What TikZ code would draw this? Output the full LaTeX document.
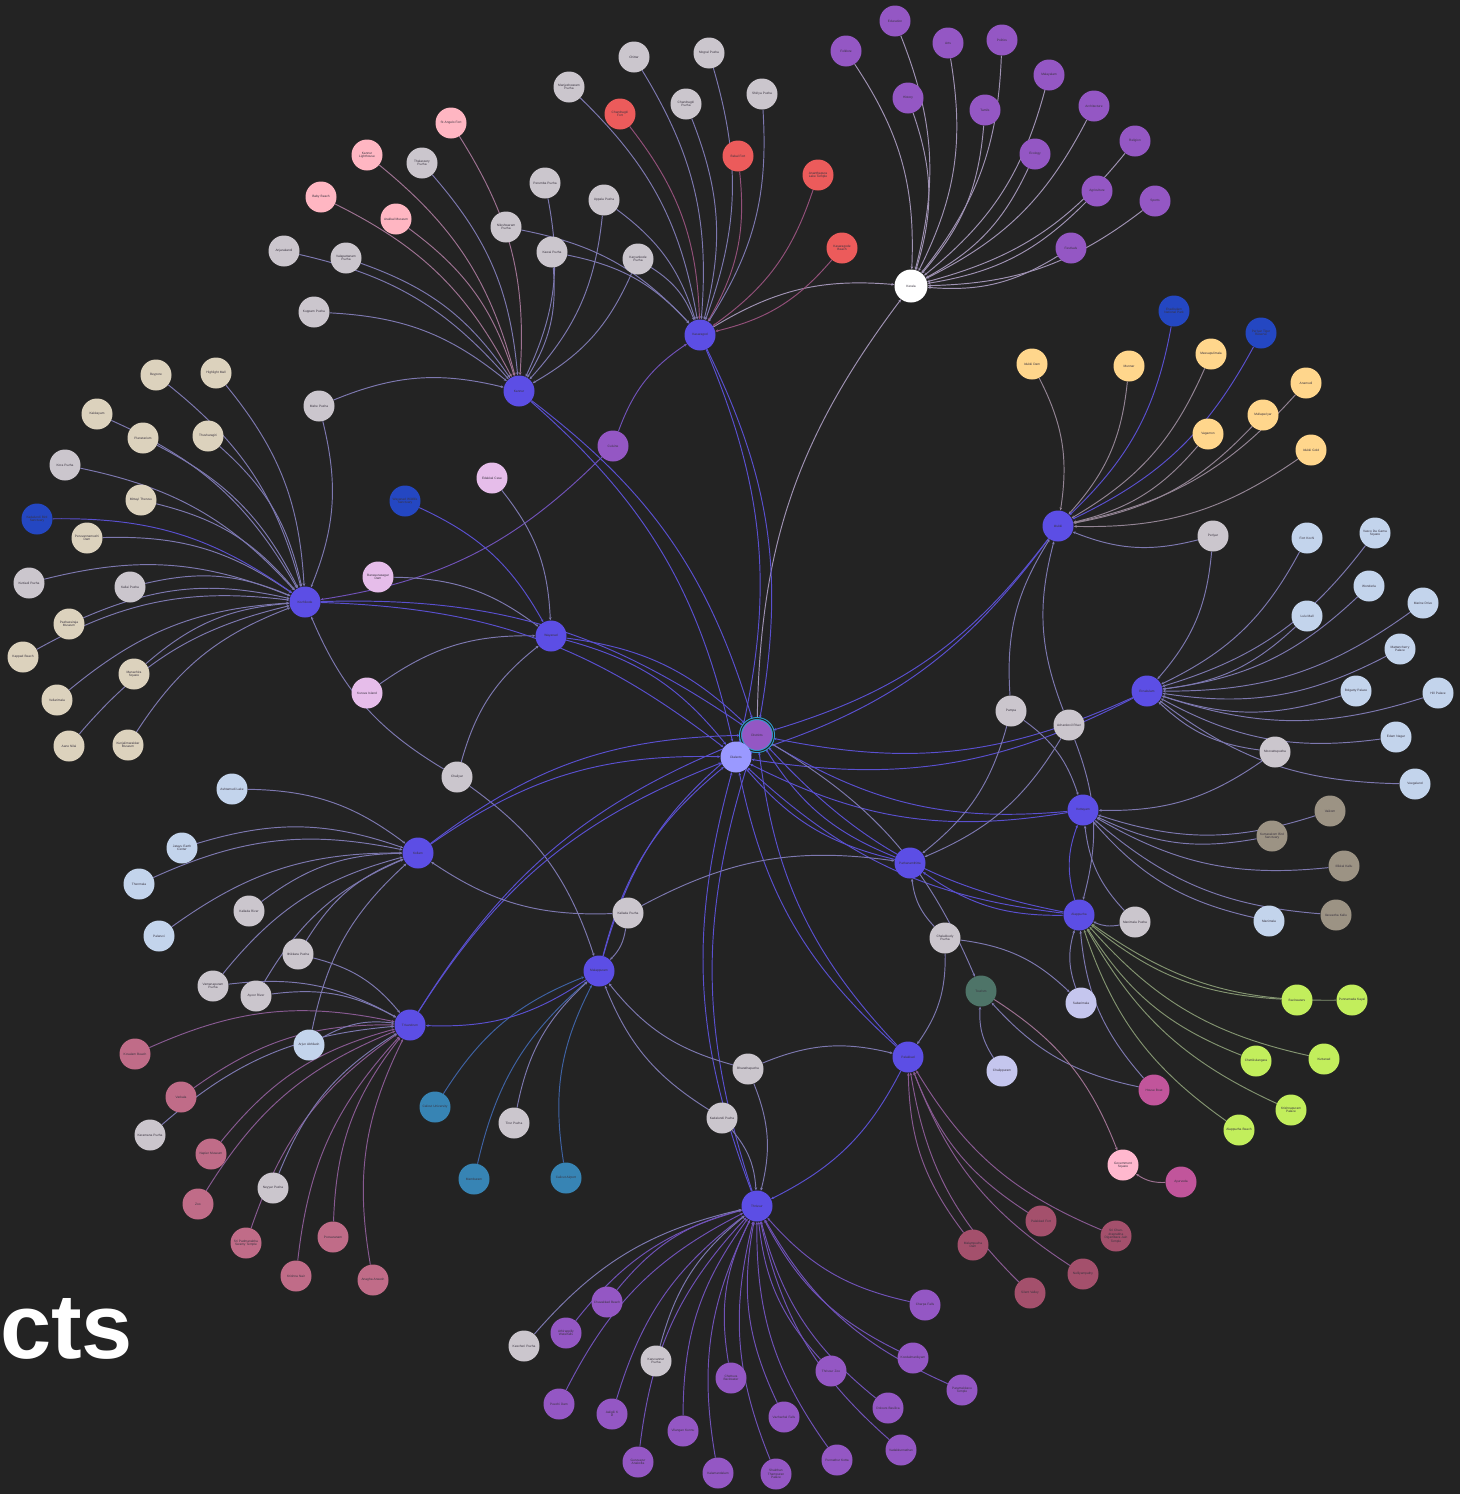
\documentclass[tikz,border=0pt]{standalone}
\usepackage{fontspec}
\setmainfont{Liberation Sans}
\usetikzlibrary{arrows.meta}

\definecolor{bgc}{HTML}{232323}
\definecolor{txtc}{HTML}{3A3440}
\definecolor{hubc}{HTML}{5C4EE5}
\definecolor{topicc}{HTML}{9457C4}
\definecolor{riverc}{HTML}{CBC6CD}
\definecolor{beigec}{HTML}{DCD2BD}
\definecolor{pinkc}{HTML}{FFB6C2}
\definecolor{redc}{HTML}{EC5B5B}
\definecolor{yellowc}{HTML}{FFD68C}
\definecolor{navyc}{HTML}{2447C2}
\definecolor{skyc}{HTML}{C3D4EC}
\definecolor{lilacc}{HTML}{E6BDEA}
\definecolor{taupec}{HTML}{9C9384}
\definecolor{limec}{HTML}{C2EE5C}
\definecolor{tealc}{HTML}{3784B4}
\definecolor{rosec}{HTML}{C06C88}
\definecolor{wine}{HTML}{A4506C}
\definecolor{magc}{HTML}{C1559B}
\definecolor{sagec}{HTML}{4E7468}
\definecolor{lavc}{HTML}{C5C6EE}
\definecolor{blushc}{HTML}{FFB8CE}
\definecolor{ringc}{HTML}{2FA0D0}
\definecolor{dialc}{HTML}{9A99FF}
\definecolor{hubln}{HTML}{5A50D0}
\definecolor{greyln}{HTML}{7D78B0}
\definecolor{kerln}{HTML}{A093B4}
\definecolor{redln}{HTML}{93507A}
\definecolor{pinkln}{HTML}{9E7292}
\definecolor{yelln}{HTML}{938494}
\definecolor{limeln}{HTML}{839470}
\definecolor{tealln}{HTML}{3F62A4}
\definecolor{roseln}{HTML}{885A92}
\definecolor{purpln}{HTML}{7052B8}

\pgfdeclarelayer{canvas}
\pgfdeclarelayer{edges}
\pgfsetlayers{canvas,edges,main}

\tikzset{
  dot/.style={circle, minimum size=31pt, inner sep=0pt, text width=27pt, align=center,
    text=txtc, font=\fontsize{3.2}{3.5}\selectfont},
  hub/.style={dot, fill=hubc},
  topic/.style={dot, fill=topicc},
  river/.style={dot, fill=riverc},
  beige/.style={dot, fill=beigec},
  pinkdot/.style={dot, fill=pinkc},
  reddot/.style={dot, fill=redc},
  yellowdot/.style={dot, fill=yellowc},
  navydot/.style={dot, fill=navyc},
  skydot/.style={dot, fill=skyc},
  lilacdot/.style={dot, fill=lilacc},
  taupedot/.style={dot, fill=taupec},
  limedot/.style={dot, fill=limec},
  tealdot/.style={dot, fill=tealc},
  rosedot/.style={dot, fill=rosec},
  winedot/.style={dot, fill=wine},
  magdot/.style={dot, fill=magc},
  lavdot/.style={dot, fill=lavc},
  ln/.style={draw=#1, line width=0.95pt, -{Stealth[length=3pt,width=2.6pt]}, bend left=18},
  ln/.default=hubln
}

\begin{document}
\begin{tikzpicture}[x=1pt,y=-1pt]
\begin{pgfonlayer}{canvas}
  \fill[bgc] (0,0) rectangle (1460,1494);
\end{pgfonlayer}
\useasboundingbox (0,0) rectangle (1460,1494);

% heading
\node[anchor=base west, inner sep=0pt, text=white, font=\fontsize{92}{92}\selectfont\bfseries] (title) at (0,1358) {cts};

% centre
\node[dot, fill=topicc, minimum size=33pt, draw=ringc, line width=1pt, double=bgc, double distance=1pt] (districts) at (757,735) {Districts};
\node[dot, fill=dialc] (dialects) at (736,757) {Dialects};

% Kerala topics
\node[dot, fill=white, minimum size=33pt] (kerala) at (911,286) {Kerala};
\node[topic] (folk) at (846,51) {Folklore};
\node[topic] (edu) at (895,21) {Education};
\node[topic] (arts) at (948,43) {Arts};
\node[topic] (poli) at (1002,40) {Politics};
\node[topic] (hist) at (908,98) {History};
\node[topic] (tamil) at (985,110) {Tamils};
\node[topic] (mal) at (1049,75) {Malayalam};
\node[topic] (arch) at (1094,106) {Architecture};
\node[topic] (eco) at (1035,154) {Ecology};
\node[topic] (rel) at (1135,141) {Religion};
\node[topic] (agri) at (1097,191) {Agriculture};
\node[topic] (sport) at (1155,201) {Sports};
\node[topic] (fest) at (1071,248) {Festivals};
\node[topic] (cuisine) at (613,446) {Cuisine};

% Kasaragod
\node[hub] (kasaragod) at (700,335) {Kasaragod};
\node[river] (chittar) at (634,57) {Chittar};
\node[river] (mogral) at (709,53) {Mogral Puzha};
\node[river] (manj) at (569,87) {Manjeshwaram\\Puzha};
\node[reddot] (cfort) at (620,114) {Chandragiri\\Fort};
\node[river] (cpuzha) at (686,104) {Chandragiri\\Puzha};
\node[river] (shiriya) at (762,94) {Shiriya Puzha};
\node[reddot] (bekal) at (738,156) {Bekal Fort};
\node[reddot] (anantha) at (818,175) {Ananthapura\\Lake Temple};
\node[reddot] (ksbeach) at (842,248) {Kasaragode Beach};
\node[river] (karyan) at (638,259) {Karyankode\\Puzha};
\node[river] (uppala) at (604,200) {Uppala Puzha};
\node[river] (kawai) at (552,252) {Kawai Puzha};
\node[river] (perumba) at (545,183) {Perumba Puzha};
\node[river] (nilesh) at (506,227) {Nileshwaram\\Puzha};

% Kannur
\node[hub] (kannur) at (519,391) {Kannur};
\node[pinkdot] (angelo) at (451,123) {St Angelo Fort};
\node[pinkdot] (lighth) at (367,155) {Kannur Lighthouse};
\node[river] (thalas) at (422,163) {Thalassery\\Puzha};
\node[pinkdot] (baby) at (321,197) {Baby Beach};
\node[pinkdot] (arakkal) at (396,219) {Arakkal Museum};
\node[river] (anjar) at (284,251) {Anjarakandi};
\node[river] (valap) at (346,258) {Valapattanam\\Puzha};
\node[river] (kuppam) at (314,312) {Kuppam Puzha};
\node[river] (mahe) at (319,406) {Mahe Puzha};

% Kozhikode
\node[hub] (kozhikode) at (305,602) {Kozhikode};
\node[beige] (beypore) at (156,375) {Beypore};
\node[beige] (hilite) at (216,373) {Highlight Mall};
\node[beige] (kakka) at (97,414) {Kakkayam};
\node[beige] (planet) at (143,438) {Planetarium};
\node[beige] (thusha) at (208,436) {Thusharagiri};
\node[river] (kora) at (65,465) {Kora Puzha};
\node[beige] (mittayi) at (141,500) {Mittayi Theruvu};
\node[navydot] (kbird) at (37,519) {Kadalundi Bird\\Sanctuary};
\node[beige] (peruv) at (87,538) {Peruvannamuzhi\\Dam};
\node[river] (kuttiadi) at (29,583) {Kuttiadi Puzha};
\node[river] (kallai) at (130,587) {Kallai Puzha};
\node[beige] (pazhassi) at (69,624) {Pazhassiraja\\Museum};
\node[beige] (kappad) at (23,657) {Kappad Beach};
\node[beige] (manachira) at (134,674) {Manachira\\Square};
\node[beige] (vellari) at (57,700) {Vellarimala};
\node[beige] (aane) at (69,746) {Aane Nilai};
\node[beige] (kunjali) at (128,745) {Kunjalimarakkar\\Museum};

% Wayanad
\node[hub] (wayanad) at (551,636) {Wayanad};
\node[lilacdot] (edakkal) at (492,478) {Edakkal Cave};
\node[navydot] (wwls) at (405,501) {Wayanad Wildlife\\Sanctuary};
\node[lilacdot] (banasura) at (378,577) {Banasurasagar\\Dam};
\node[lilacdot] (kuruva) at (367,693) {Kuruva Island};
\node[river] (chaliyar) at (457,777) {Chaliyar};

% Idukki
\node[hub] (idukki) at (1058,526) {Idukki};
\node[yellowdot] (idam) at (1032,364) {Idukki Dam};
\node[yellowdot] (munnar) at (1129,366) {Munnar};
\node[yellowdot] (meesa) at (1211,354) {Meesapulimala};
\node[navydot] (eravi) at (1174,311) {Eravikulam\\National Park};
\node[navydot] (ptr) at (1261,333) {Periyar Tiger\\Reserve};
\node[yellowdot] (vagamon) at (1208,434) {Vagamon};
\node[yellowdot] (mullap) at (1263,415) {Mullaperiyar};
\node[yellowdot] (anamudi) at (1306,383) {Anamudi};
\node[yellowdot] (igold) at (1311,450) {Idukki Gold};
\node[river] (periyar) at (1213,536) {Periyar};

% Ernakulam
\node[hub] (ernakulam) at (1147,691) {Ernakulam};
\node[skydot] (fortkochi) at (1307,538) {Fort Kochi};
\node[skydot] (vasco) at (1375,533) {Vasco Da Gama\\Square};
\node[skydot] (wonderla) at (1369,586) {Wonderla};
\node[skydot] (lulu) at (1307,616) {Lulu Mall};
\node[skydot] (marine) at (1423,603) {Marine Drive};
\node[skydot] (mattan) at (1400,649) {Mattancherry\\Palace};
\node[skydot] (bolgatty) at (1356,691) {Bolgatty Palace};
\node[skydot] (hillp) at (1438,693) {Hill Palace};
\node[skydot] (kodanad) at (1396,737) {Edam Nagar};
\node[skydot] (veega) at (1415,784) {Veegaland};
\node[river] (moova) at (1275,752) {Moovattupuzha};
\node[river] (pampa) at (1011,711) {Pampa};
\node[river] (achan) at (1069,725) {Achankovil River};

% Kottayam
\node[hub] (kottayam) at (1083,810) {Kottayam};
\node[taupedot] (vaikom) at (1330,811) {Vaikom};
\node[taupedot] (kumarakom) at (1272,836) {Kumarakom Bird\\Sanctuary};
\node[taupedot] (illikkal) at (1344,866) {Illikkal Kallu};
\node[taupedot] (ilav) at (1336,915) {Ilaveezha Kallu};
\node[skydot] (manimala) at (1269,921) {Manimala};
\node[river] (manimalap) at (1135,922) {Manimala Puzha};

% Alappuzha
\node[hub] (alappuzha) at (1079,915) {Alappuzha};
\node[limedot] (backw) at (1297,1000) {Backwaters};
\node[limedot] (punnamada) at (1352,1000) {Punnamada Kayal};
\node[limedot] (chetti) at (1256,1061) {Chettikulangara};
\node[limedot] (kuttanad) at (1324,1059) {Kuttanad};
\node[limedot] (krishna) at (1291,1110) {Krishnapuram\\Palace};
\node[limedot] (abeach) at (1239,1130) {Alappuzha Beach};
\node[magdot] (houseboat) at (1154,1090) {House Boat};
\node[lavdot] (sabari) at (1081,1003) {Sabarimala};

% Pathanamthitta
\node[hub] (pathanam) at (910,863) {Pathanamthitta};
\node[river] (chalakudy) at (945,938) {Chalakkudy\\Puzha};
\node[dot, fill=sagec] (tourism) at (981,991) {Tourism};
\node[lavdot] (chalip) at (1002,1071) {Chalippuram};
\node[dot, fill=blushc] (govsq) at (1123,1165) {Government\\Square};
\node[magdot] (ayur) at (1181,1182) {Ayurveda};

% Palakkad
\node[hub] (palakkad) at (908,1057) {Palakkad};
\node[winedot] (malam) at (973,1245) {Malampuzha\\Dam};
\node[winedot] (pfort) at (1041,1221) {Palakkad Fort};
\node[winedot] (jain) at (1116,1236) {Sri Chandraprabha\\Digambara Jain\\Temple};
\node[winedot] (silent) at (1030,1293) {Silent Valley};
\node[winedot] (nelli) at (1083,1274) {Nelliyampathy};

% Thrissur
\node[hub] (thrissur) at (757,1206) {Thrissur};
\node[topic] (chavakkad) at (607,1302) {Chavakkad Beach};
\node[topic] (athira) at (566,1333) {Athirappilly\\Waterfalls};
\node[river] (keecheri) at (524,1346) {Keecheri Puzha};
\node[topic] (peechi) at (559,1404) {Peechi Dam};
\node[topic] (asok) at (612,1414) {Aaligili K\\D};
\node[river] (karuv) at (656,1361) {Karuvannur\\Puzha};
\node[topic] (guru) at (638,1462) {Guruvayur\\Anakotta};
\node[topic] (vilangan) at (683,1431) {Vilangan Kunnu};
\node[topic] (kalam) at (718,1473) {Kalamandalam};
\node[topic] (chettuva) at (731,1378) {Chettuva Backwater};
\node[topic] (shakthan) at (776,1474) {Shakthan Thampuran\\Palace};
\node[topic] (vazha) at (784,1417) {Vazhachal Falls};
\node[topic] (tzoo) at (831,1371) {Thrissur Zoo};
\node[topic] (punna) at (837,1460) {Punnathur Kotta};
\node[topic] (dolours) at (888,1408) {Dolours Basilica};
\node[topic] (vadakk) at (901,1450) {Vadakkunnathan};
\node[topic] (koodal) at (913,1358) {Koodalmanikyam};
\node[topic] (parame) at (962,1390) {Paramekkavu\\Temple};
\node[topic] (charpa) at (925,1305) {Charpa Falls};

% Malappuram
\node[hub] (malappuram) at (599,971) {Malappuram};
\node[tealdot] (calicutu) at (435,1107) {Calicut University};
\node[tealdot] (mambram) at (474,1179) {Mamburam};
\node[tealdot] (calicuta) at (566,1178) {Calicut Airport};
\node[river] (tirur) at (514,1123) {Tirur Puzha};
\node[river] (kallada) at (628,913) {Kallada Puzha};
\node[river] (bharatha) at (748,1069) {Bharathapuzha};
\node[river] (kadalundi) at (722,1118) {Kadalundi Puzha};

% Kollam
\node[hub] (kollam) at (418,853) {Kollam};
\node[skydot] (ashta) at (232,789) {Ashtamudi Lake};
\node[skydot] (jatayu) at (182,848) {Jatayu Earth\\Center};
\node[skydot] (thenmala) at (139,884) {Thenmala};
\node[skydot] (palaruvi) at (159,936) {Palaruvi};
\node[river] (kallriver) at (249,911) {Kallada River};
\node[river] (ithikkara) at (298,954) {Ithikkara Puzha};
\node[river] (vamana) at (213,986) {Vamanapuram\\Puzha};
\node[river] (ayoor) at (256,996) {Ayoor River};

% Trivandrum
\node[hub] (trivandrum) at (410,1025) {Trivandrum};
\node[rosedot] (kovalam) at (135,1054) {Kovalam Beach};
\node[rosedot] (varkala) at (181,1097) {Varkala};
\node[river] (karamana) at (150,1135) {Karamana Puzha};
\node[rosedot] (napier) at (211,1154) {Napier Museum};
\node[rosedot] (zoo) at (198,1204) {Zoo};
\node[river] (neyyar) at (273,1188) {Neyyar Puzha};
\node[rosedot] (padma) at (246,1243) {Sri Padmanabha\\Swamy Temple};
\node[rosedot] (ponmudi) at (333,1237) {Poovaranam};
\node[rosedot] (kuthira) at (296,1276) {Krishna Nair};
\node[rosedot] (aruvi) at (373,1280) {Anagha Aneesh};
\node[skydot] (arjun) at (309,1045) {Arjun Abhilash};

\begin{pgfonlayer}{edges}
% Kerala
\foreach \s in {folk,edu,arts,poli,hist,tamil,mal,arch,eco,rel,agri,sport,fest}
  \draw[ln=kerln] (\s) to (kerala);
\draw[ln=kerln] (kasaragod) to (kerala);
\draw[ln=kerln] (districts) to (kerala);
% Kasaragod and Kannur
\foreach \s in {cfort,bekal,anantha,ksbeach}
  \draw[ln=redln] (\s) to (kasaragod);
\foreach \s in {chittar,mogral,manj,cpuzha,shiriya,karyan,uppala,kawai,nilesh}
  \draw[ln=greyln] (\s) to (kasaragod);
\foreach \s in {lighth,baby,arakkal,angelo}
  \draw[ln=pinkln] (\s) to (kannur);
\foreach \s in {thalas,anjar,valap,kuppam,mahe,perumba,uppala,karyan,kawai}
  \draw[ln=greyln] (\s) to (kannur);
\draw[ln=purpln] (cuisine) to (kasaragod);
\draw[ln=purpln] (cuisine) to (kozhikode);
% Kozhikode and Wayanad
\foreach \s in {beypore,hilite,kakka,planet,thusha,mittayi,peruv,pazhassi,kappad,manachira,vellari,aane,kunjali,kora,kuttiadi,kallai,mahe}
  \draw[ln=greyln] (\s) to (kozhikode);
\draw[ln] (kbird) to (kozhikode);
\foreach \s in {edakkal,banasura,kuruva,chaliyar}
  \draw[ln=greyln] (\s) to (wayanad);
\draw[ln] (wwls) to (wayanad);
\draw[ln=greyln] (chaliyar) to (kozhikode);
\draw[ln=greyln] (chaliyar) to (malappuram);
% districts
\foreach \h in {kasaragod,kannur,kozhikode,wayanad,idukki,ernakulam,kottayam,alappuzha,pathanam,palakkad,thrissur,malappuram,kollam,trivandrum}{
  \draw[ln] (\h) to (districts);
  \draw[ln] (\h) to (dialects);
}
% Idukki and Ernakulam
\foreach \s in {idam,munnar,meesa,vagamon,mullap,anamudi,igold}
  \draw[ln=yelln] (\s) to (idukki);
\foreach \s in {eravi,ptr}
  \draw[ln] (\s) to (idukki);
\foreach \s in {periyar,pampa,achan}
  \draw[ln=greyln] (\s) to (idukki);
\foreach \s in {fortkochi,vasco,wonderla,lulu,marine,mattan,bolgatty,hillp,kodanad,veega,moova,periyar}
  \draw[ln=greyln] (\s) to (ernakulam);
% Kottayam and Alappuzha
\foreach \s in {vaikom,kumarakom,illikkal,ilav,manimala,manimalap,moova,pampa}
  \draw[ln=greyln] (\s) to (kottayam);
\draw[ln] (alappuzha) to (kottayam);
\foreach \s in {backw,punnamada,chetti,kuttanad,krishna,abeach}
  \draw[ln=limeln] (\s) to (alappuzha);
\foreach \s in {houseboat,sabari,manimalap,achan}
  \draw[ln=greyln] (\s) to (alappuzha);
\draw[ln] (alappuzha) to (pathanam);
% Pathanamthitta, tourism, Palakkad
\foreach \s in {pampa,achan,kallada,chalakudy}
  \draw[ln=greyln] (\s) to (pathanam);
\foreach \s in {houseboat,chalip}
  \draw[ln=greyln] (\s) to (tourism);
\draw[ln=greyln] (districts) to (tourism);
\draw[ln=pinkln] (tourism) to (govsq);
\draw[ln=pinkln] (ayur) to (govsq);
\draw[ln=greyln] (chalakudy) to (sabari);
\foreach \s in {malam,pfort,jain,silent,nelli}
  \draw[ln=roseln] (\s) to (palakkad);
\foreach \s in {chalakudy,bharatha}
  \draw[ln=greyln] (\s) to (palakkad);
\draw[ln] (palakkad) to (thrissur);
% Thrissur
\foreach \s in {chavakkad,athira,peechi,asok,guru,vilangan,kalam,chettuva,shakthan,vazha,tzoo,punna,dolours,vadakk,koodal,parame,charpa}
  \draw[ln=purpln] (\s) to (thrissur);
\foreach \s in {keecheri,karuv,bharatha,kadalundi}
  \draw[ln=greyln] (\s) to (thrissur);
% Malappuram
\foreach \s in {calicutu,mambram,calicuta}
  \draw[ln=tealln] (\s) to (malappuram);
\foreach \s in {tirur,kallada,bharatha,kadalundi}
  \draw[ln=greyln] (\s) to (malappuram);
\draw[ln] (malappuram) to (trivandrum);
% Kollam and Trivandrum
\foreach \s in {ashta,jatayu,thenmala,palaruvi,kallriver,ithikkara,vamana,ayoor,kallada,arjun}
  \draw[ln=greyln] (\s) to (kollam);
\foreach \s in {kovalam,varkala,napier,zoo,padma,ponmudi,kuthira,aruvi}
  \draw[ln=roseln] (\s) to (trivandrum);
\foreach \s in {karamana,neyyar,vamana,ayoor,arjun,ithikkara}
  \draw[ln=greyln] (\s) to (trivandrum);
\end{pgfonlayer}
\end{tikzpicture}
\end{document}
